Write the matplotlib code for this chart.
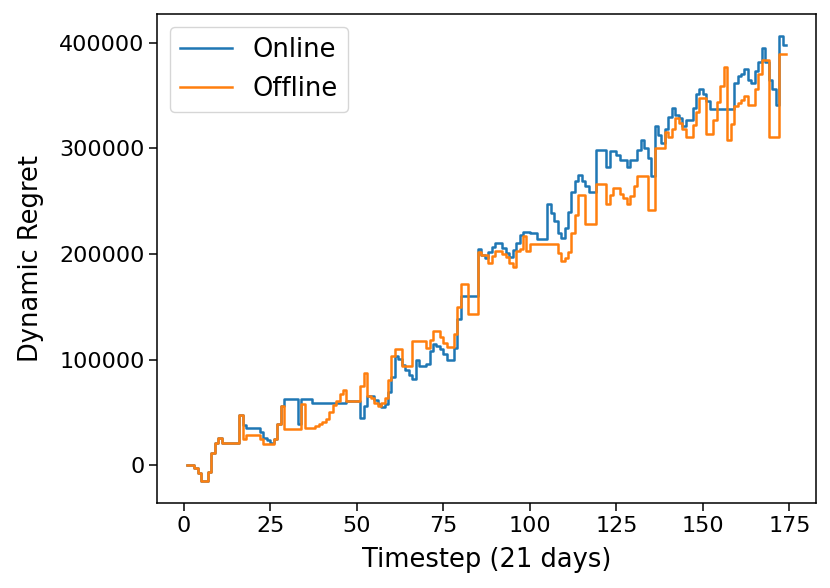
import numpy as np
import matplotlib
matplotlib.use("Agg")
import matplotlib.pyplot as plt

# Timesteps (21 days each)
timesteps = np.arange(1, 175)

# Dynamic regret values, in thousands
online_k = [
    0, 0, -3, -7, -15, -15, -6, 12, 21, 26,
    21, 21, 21, 21, 21, 48, 38, 35, 35, 35,
    35, 31, 26, 24, 21, 25, 39, 56, 63, 63,
    63, 63, 39, 63, 63, 63, 59, 59, 59, 59,
    59, 59, 59, 59, 59, 59, 61, 61, 61, 61,
    45, 56, 66, 66, 62, 58, 55, 58, 69, 84,
    103, 101, 95, 90, 85, 82, 100, 94, 94, 96,
    108, 115, 113, 110, 105, 100, 100, 111, 138, 160,
    160, 160, 160, 160, 205, 199, 196, 202, 207, 210,
    210, 206, 201, 197, 204, 210, 218, 221, 221, 220,
    220, 214, 214, 214, 247, 239, 231, 220, 215, 225,
    240, 259, 269, 275, 269, 264, 259, 259, 298, 298,
    298, 282, 297, 297, 294, 289, 289, 282, 289, 289,
    298, 308, 300, 291, 274, 321, 313, 305, 318, 330,
    338, 332, 329, 321, 327, 327, 338, 351, 356, 351,
    345, 337, 337, 337, 337, 337, 337, 337, 362, 368,
    370, 375, 365, 362, 373, 382, 395, 382, 365, 356,
    341, 406, 398, 398,
]

offline_k = [
    0, 0, -3, -7, -15, -15, -6, 12, 21, 26,
    21, 21, 21, 21, 21, 48, 25, 29, 29, 29,
    29, 25, 20, 20, 20, 25, 39, 56, 34, 34,
    34, 34, 34, 58, 35, 35, 35, 37, 39, 41,
    44, 50, 57, 61, 67, 71, 61, 61, 61, 61,
    75, 87, 66, 64, 59, 56, 59, 64, 81, 103,
    110, 110, 94, 94, 94, 118, 118, 118, 118, 111,
    119, 127, 127, 121, 116, 112, 112, 124, 150, 172,
    172, 143, 143, 143, 202, 199, 199, 191, 198, 203,
    203, 200, 197, 191, 188, 203, 205, 217, 203, 209,
    209, 209, 209, 209, 209, 209, 209, 201, 193, 196,
    202, 220, 237, 256, 256, 228, 228, 228, 266, 266,
    266, 247, 256, 262, 262, 257, 253, 247, 255, 264,
    274, 274, 274, 242, 242, 300, 300, 300, 315, 311,
    318, 329, 324, 318, 311, 311, 322, 334, 348, 348,
    314, 314, 327, 344, 359, 377, 308, 323, 340, 343,
    346, 350, 341, 341, 356, 370, 384, 384, 311, 311,
    311, 389, 389, 389,
]

online = np.array(online_k) * 1000
offline = np.array(offline_k) * 1000

fig = plt.figure(figsize=(8.3, 5.88), dpi=100)
ax = fig.add_axes([0.1895, 0.144, 0.7936, 0.832])

ax.step(timesteps, online, where="post", color="#1f77b4", lw=1.8, label="Online")
ax.step(timesteps, offline, where="post", color="#ff7f0e", lw=1.8, label="Offline")

ax.set_xlabel("Timestep (21 days)", fontsize=18.5, labelpad=8)
ax.set_ylabel("Dynamic Regret", fontsize=18.5, labelpad=11)
ax.tick_params(labelsize=16, length=5.5, width=1.1)
for s in ax.spines.values():
    s.set_linewidth(1.1)

ax.legend(loc="upper left", fontsize=18.5)

fig.savefig("out.png", dpi=100)
